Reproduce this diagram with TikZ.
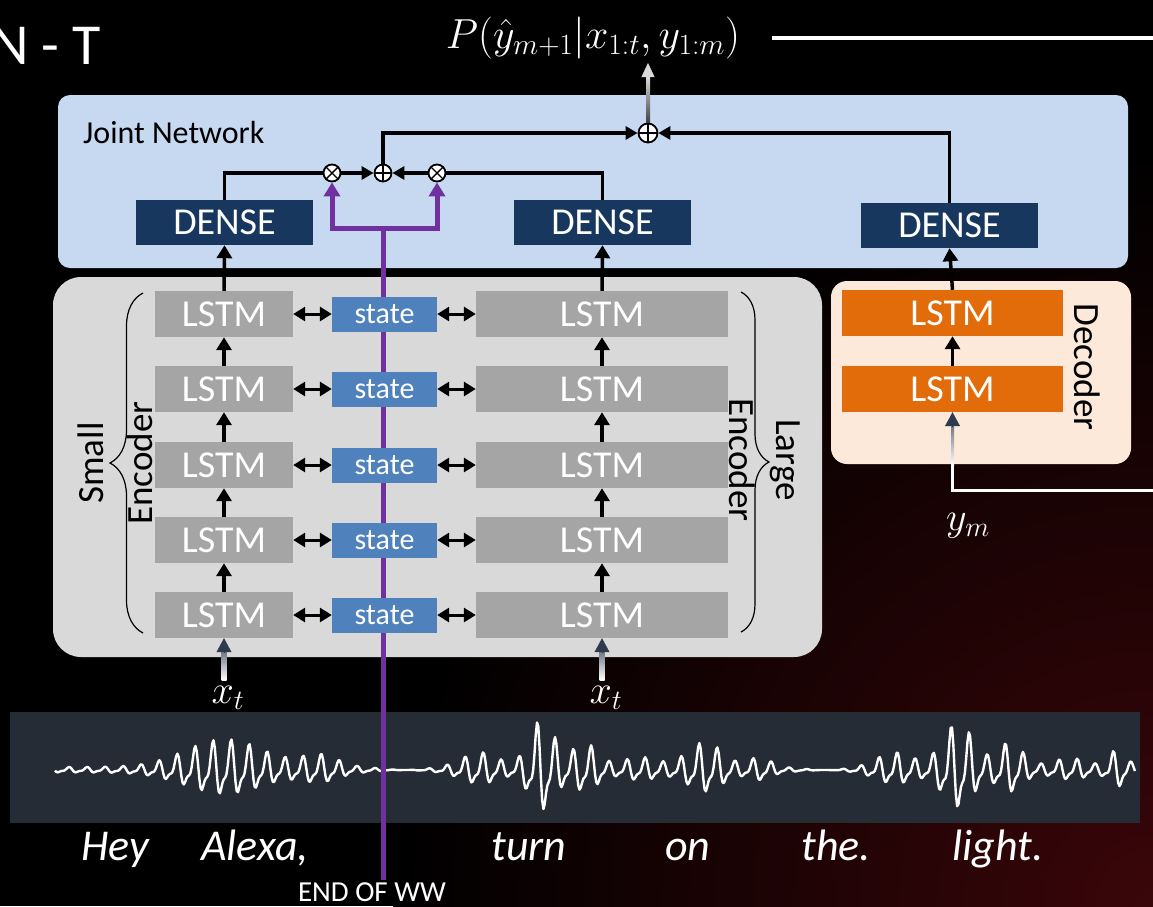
\RequirePackage{fix-cm}
\documentclass[tikz,border=0pt]{standalone}
\usepackage{fontspec}
\setmainfont{Carlito}
\usetikzlibrary{arrows.meta,decorations.pathreplacing,calc}
\definecolor{jointbg}{HTML}{C6D9F0}
\definecolor{encbg}{HTML}{D9D9D9}
\definecolor{lstmgray}{HTML}{A5A5A5}
\definecolor{statebl}{HTML}{4F81BD}
\definecolor{densebl}{HTML}{17375E}
\definecolor{decbg}{HTML}{FCE9DA}
\definecolor{orng}{HTML}{E36C0A}
\definecolor{purp}{HTML}{7030A0}
\definecolor{wavebg}{HTML}{262C35}
\definecolor{tipnavy}{HTML}{2E3B4E}
\definecolor{glow}{HTML}{3A0609}
\pgfdeclarelayer{bg}
\pgfdeclarelayer{mid}
\pgfsetlayers{bg,mid,main}
\newcommand{\fs}[1]{\fontsize{#1}{#1}\selectfont}
\tikzset{
  lstm/.style={fill=lstmgray, minimum height=46, text=white, font=\fs{38}, inner sep=0},
  dlstm/.style={fill=orng, minimum height=46, minimum width=221, text=white, font=\fs{38}, inner sep=0},
  statebox/.style={fill=statebl, minimum height=35, minimum width=105, text=white, font=\fs{30}, inner sep=0},
  densebox/.style={fill=densebl, minimum height=45, minimum width=177, text=white, font=\fs{38}, inner sep=0},
  barrow/.style={line width=3.5, -{Triangle[length=13,width=15]}},
  darrow/.style={line width=3, {Triangle[length=12,width=14]}-{Triangle[length=12,width=14]}},
  jline/.style={line width=3.8},
  jarrow/.style={line width=3.8, -{Triangle[length=12,width=13]}},
  purpline/.style={purp, line width=5},
  purparrow/.style={purp, line width=5, -{Triangle[length=14,width=16]}},
  otimesn/.style={circle, draw=black, line width=1.8, fill=white, minimum size=17, inner sep=0,
    path picture={\draw[line width=1.4] (path picture bounding box.north west) -- (path picture bounding box.south east)
      (path picture bounding box.north east) -- (path picture bounding box.south west);}},
  oplusn/.style={circle, draw=black, line width=1.8, fill=white, minimum size=17, inner sep=0,
    path picture={\draw[line width=1.4] (path picture bounding box.north) -- (path picture bounding box.south)
      (path picture bounding box.east) -- (path picture bounding box.west);}},
  word/.style={text=white, font=\fs{44}\itshape, anchor=base},
  mathlbl/.style={text=white, font=\fs{42}},
  sidelbl/.style={text=black, font=\fs{37}, align=center},
  wave/.style={white, line width=2.4, line join=round},
  brc/.style={decorate, line width=1.2, black}
}
\begin{document}
\begin{tikzpicture}[x=1pt,y=-1pt,
  declare function={
    gg(\x,\c,\w)=exp(-min(((\x-\c)/\w)^2,9));
    env(\x)=3*(1-gg(\x,405,30))*(1-gg(\x,825,30)) + 28*gg(\x,225,55) + 12*gg(\x,320,25)
      + 15*gg(\x,480,25) + 48*gg(\x,542,18) + 24*gg(\x,585,18) + 10*gg(\x,640,25)
      + 25*gg(\x,705,25) + 10*gg(\x,760,15) + 15*gg(\x,895,25) + 45*gg(\x,958,22)
      + 25*gg(\x,1010,18) + 9*gg(\x,1070,25) + 18*gg(\x,1118,12);
  }]
\useasboundingbox (0,0) rectangle (1153,906);
\begin{pgfonlayer}{bg}
  \fill[black] (0,0) rectangle (1153,906);
  \begin{scope}
    \clip (0,0) rectangle (1153,906);
    \shade[inner color=glow, outer color=black] (1153,906) circle (760);
  \end{scope}
  \fill[jointbg, rounded corners=12] (58,95) rectangle (1128,268);
  \fill[encbg, rounded corners=28] (53,277) rectangle (822,657);
  \fill[decbg, rounded corners=16] (831,281) rectangle (1131,464);
  \fill[wavebg] (10,712) rectangle (1140,823);
  \draw[wave] plot[domain=55:595, samples=420] (\x,{770+env(\x)*(0.75*sin(20*(\x-325))+0.3*sin(40*(\x-325)+40))});
  \draw[wave] plot[domain=595:1135, samples=420] (\x,{770+env(\x)*(0.75*sin(20*(\x-865))+0.3*sin(40*(\x-865)+40))});
\end{pgfonlayer}

% title fragment
\node[text=white, font=\fs{58}, anchor=base east, inner sep=0] (title) at (101,64) {N - T};

% joint network
\node[text=black, font=\fs{32}, anchor=west, inner sep=0] (jn) at (83,133) {Joint Network};
\node[densebox] (dense1) at (224.5,222.5) {DENSE};
\node[densebox] (dense2) at (602.5,222.5) {DENSE};
\node[densebox] (dense3) at (949.5,225.5) {DENSE};
\node[otimesn] (ox1) at (332,173) {};
\node[oplusn] (op1) at (383,173) {};
\node[otimesn] (ox2) at (437,173) {};
\node[oplusn, minimum size=19] (op2) at (648,133) {};

% output label
\node[mathlbl, inner sep=2] (out) at (593,38) {$P(\hat{y}_{m+1}|x_{1:t},y_{1:m})$};
\coordinate (outend) at (1160,38);

% encoders
\foreach \i/\y in {1/314,2/389,3/465,4/540,5/615}{
  \node[lstm, minimum width=138] (sl\i) at (224,\y) {LSTM};
  \node[statebox] (st\i) at (384.5,\y) {state};
  \node[lstm, minimum width=252] (ll\i) at (602,\y) {LSTM};
}
% decoder
\node[dlstm] (d1) at (952.5,313) {LSTM};
\node[dlstm] (d2) at (952.5,389) {LSTM};

% side labels
\node[sidelbl, rotate=90] (smallenc) at (115,463) {Small\\[12pt]Encoder};
\node[sidelbl, rotate=-90] (largeenc) at (764.5,460) {Large\\[10pt]Encoder};
\node[sidelbl, rotate=-90] (declbl) at (1087,367) {Decoder};
\draw[brc, decoration={brace, amplitude=33}] (143,633) -- (143,293);
\draw[brc, decoration={brace, amplitude=28}] (741,292) -- (741,632);

% inputs
\node[mathlbl, font=\fs{40}] (xt1) at (228,698) {$x_t$};
\node[mathlbl, font=\fs{40}] (xt2) at (606,698) {$x_t$};
\node[mathlbl, font=\fs{40}] (ym) at (968,526) {$y_m$};

% words
\node[word] (w1) at (115,860) {Hey};
\node[word] (w2) at (255,860) {Alexa,};
\node[word] (w3) at (529,860) {turn};
\node[word] (w4) at (688,860) {on};
\node[word] (w5) at (836,860) {the.};
\node[word] (w6) at (998,860) {light.};
\node[text=white, font=\fs{29}, anchor=base] (eow) at (372,901) {END OF WW};
\coordinate (pb) at (383,880);
\coordinate (pj) at (383,228);

% purple wake-word signal (behind state boxes)
\begin{pgfonlayer}{mid}
  \draw[purpline] (pb) -- (pj);
  \draw[purparrow] (pj) -| (ox1.south);
  \draw[purparrow] (pj) -| (ox2.south);
\end{pgfonlayer}

% encoder connectors
\foreach \a/\b in {5/4,4/3,3/2,2/1}{
  \draw[barrow] (sl\a.north) -- (sl\b.south);
  \draw[barrow] (ll\a.north) -- (ll\b.south);
}
\foreach \i in {1,...,5}{
  \draw[darrow] (sl\i.east) -- (st\i.west);
  \draw[darrow] (st\i.east) -- (ll\i.west);
}
\draw[barrow] (sl1.north) -- (dense1.south);
\draw[barrow] (ll1.north) -- (dense2.south);
\draw[barrow] (d2.north) -- (d1.south);
\draw[barrow] (d1.north) -- (dense3.south);

% joint connectors
\draw[jline] (dense1.north) |- (ox1.west);
\draw[jarrow] (ox1.east) -- (op1.west);
\draw[jline] (dense2.north) |- (ox2.east);
\draw[jarrow] (ox2.west) -- (op1.east);
\draw[jarrow] (op1.north) |- (op2.west);
\draw[jarrow] (dense3.north) |- (op2.east);

% output arrow (gradient)
\coordinate (outtip) at (648,63);
\shade[top color=gray!30, bottom color=black!75] ($(op2.north)+(-2,0)$) rectangle ($(outtip)+(2,14)$);
\draw[-{Triangle[length=14,width=13]}, gray!30, line width=0.5] ($(outtip)+(0,15)$) -- (outtip);
\draw[white, line width=4] ($(out.east)+(30,0)$) -- (outend);

% input arrows (gradient)
\foreach \n/\t in {xt1/sl5, xt2/ll5}{
  \shade[top color=tipnavy!70, bottom color=white] (\t.south |- 0,680) ++(-2.5,0) rectangle ($(\t.south)+(2.5,13)$);
  \draw[-{Triangle[length=14,width=15]}, tipnavy, line width=0.5] ($(\t.south)+(0,14)$) -- (\t.south);
}
% decoder input
\coordinate (ymstart) at (1160,490);
\draw[white, line width=3] (ymstart) -| ($(d2.south)+(0,52)$);
\shade[top color=tipnavy!70, bottom color=white] ($(d2.south)+(-1.5,53)$) rectangle ($(d2.south)+(1.5,13)$);
\draw[-{Triangle[length=14,width=15]}, tipnavy, line width=0.5] ($(d2.south)+(0,14)$) -- (d2.south);
\end{tikzpicture}
\end{document}
